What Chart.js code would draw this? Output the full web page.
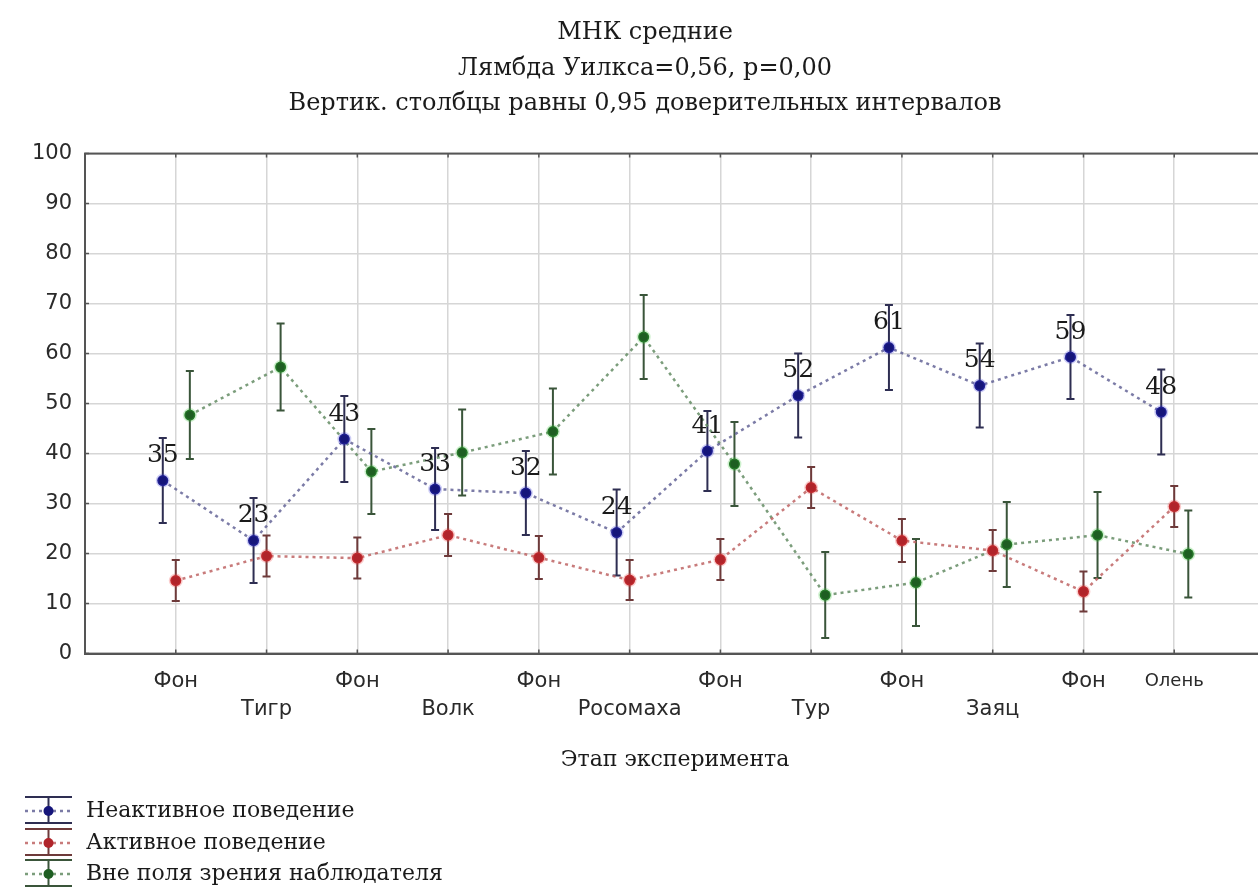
<!DOCTYPE html>
<html><head><meta charset="utf-8">
<script src="https://cdn.jsdelivr.net/npm/chart.js@4.4.0/dist/chart.umd.min.js"></script>
<style>
html,body{margin:0;padding:0;background:#fff;overflow:hidden;}
#wrap{width:1290px;height:895px;position:relative;}
</style></head><body>
<div id="wrap"><canvas id="c" width="1290" height="895"></canvas></div>
<script>
// ---- data ----
const categories = ['Фон','Тигр','Фон','Волк','Фон','Росомаха','Фон','Тур','Фон','Заяц','Фон','Олень'];
const seriesNames = ['Неактивное поведение','Активное поведение','Вне поля зрения наблюдателя'];
const inactiveMean = [34.6, 22.6, 42.9, 32.9, 32.1, 24.2, 40.5, 51.6, 61.2, 53.6, 59.3, 48.3];
const inactiveCI   = [8.5, 8.5, 8.6, 8.2, 8.4, 8.6, 8.0, 8.4, 8.5, 8.4, 8.4, 8.5];
const activeMean   = [14.6, 19.5, 19.1, 23.7, 19.2, 14.7, 18.8, 33.2, 22.6, 20.6, 12.4, 29.4];
const activeCI     = [4.1, 4.1, 4.1, 4.2, 4.3, 4.0, 4.1, 4.1, 4.3, 4.1, 4.0, 4.1];
const outsideMean  = [47.7, 57.3, 36.4, 40.2, 44.4, 63.3, 37.9, 11.7, 14.2, 21.8, 23.7, 19.9];
const outsideCI    = [8.8, 8.7, 8.5, 8.6, 8.6, 8.4, 8.4, 8.6, 8.7, 8.5, 8.6, 8.7];
const yTicks = [0,10,20,30,40,50,60,70,80,90,100];
const titleLines = ['МНК средние','Лямбда Уилкса=0,56, p=0,00','Вертик. столбцы равны 0,95 доверительных интервалов'];
const xAxisTitle = 'Этап эксперимента';

// ---- styles ----
const styles = [
  {offset:-0.143, line:'rgba(100,100,150,0.85)', point:'#15157a', halo:'rgba(60,60,220,0.25)', err:'#2e2e52'},
  {offset:0,      line:'rgba(190,100,100,0.85)', point:'#b0242a', halo:'rgba(240,60,60,0.25)', err:'#6e3a3a'},
  {offset:0.155,  line:'rgba(100,140,100,0.85)', point:'#1e5e22', halo:'rgba(60,200,60,0.25)', err:'#3a553a'}
];
const means = [inactiveMean, activeMean, outsideMean];
const cis = [inactiveCI, activeCI, outsideCI];

const datasets = seriesNames.map((name, s) => ({
  label: name,
  data: means[s].map((v, i) => ({x: i + styles[s].offset, y: v})),
  ci: cis[s],
  borderColor: styles[s].line,
  borderWidth: 2.5,
  borderDash: [3, 4],
  pointRadius: 5.5,
  pointHoverRadius: 5.5,
  pointBackgroundColor: styles[s].point,
  pointBorderColor: styles[s].halo,
  pointBorderWidth: 3,
  showLine: true,
  fill: false,
  errColor: styles[s].err,
  legendColor: styles[s].point
}));

const SERIF = 'DejaVu Serif';
const SANS = 'DejaVu Sans';

const extras = {
  id: 'extras',
  beforeDatasetsDraw(chart) {
    const {ctx, scales: {x, y}} = chart;
    chart.data.datasets.forEach(ds => {
      ctx.save();
      ctx.strokeStyle = ds.errColor;
      ctx.lineWidth = 2;
      ds.data.forEach((p, i) => {
        const px = x.getPixelForValue(p.x);
        const yl = y.getPixelForValue(p.y - ds.ci[i]);
        const yh = y.getPixelForValue(p.y + ds.ci[i]);
        ctx.beginPath();
        ctx.moveTo(px, yl); ctx.lineTo(px, yh);
        ctx.moveTo(px - 4, yl); ctx.lineTo(px + 4, yl);
        ctx.moveTo(px - 4, yh); ctx.lineTo(px + 4, yh);
        ctx.stroke();
      });
      ctx.restore();
    });
  },
  afterDatasetsDraw(chart) {
    const {ctx, scales: {x, y}} = chart;
    const ds = chart.data.datasets[0];
    ctx.save();
    ctx.font = '25px "' + SERIF + '"';
    ctx.fillStyle = '#1a1a1a';
    ctx.textAlign = 'center';
    ctx.textBaseline = 'middle';
    ds.data.forEach(p => {
      ctx.fillText(String(Math.round(p.y)), x.getPixelForValue(p.x), y.getPixelForValue(p.y) - 25);
    });
    ctx.restore();
  },
  afterDraw(chart) {
    const {ctx, chartArea: a, scales: {x, y}} = chart;
    ctx.save();
    // frame
    ctx.strokeStyle = '#555';
    ctx.lineWidth = 2;
    ctx.strokeRect(a.left, a.top, a.right - a.left, a.bottom - a.top);
    // small inward tick marks
    ctx.lineWidth = 1.5;
    ctx.beginPath();
    x.ticks.forEach(t => {
      const px = x.getPixelForValue(t.value);
      ctx.moveTo(px, a.top); ctx.lineTo(px, a.top + 4);
      ctx.moveTo(px, a.bottom); ctx.lineTo(px, a.bottom - 4);
    });
    y.ticks.forEach(t => {
      const py = y.getPixelForValue(t.value);
      ctx.moveTo(a.left, py); ctx.lineTo(a.left + 4, py);
    });
    ctx.stroke();
    // legend
    const rows = [811, 843, 874];
    chart.data.datasets.forEach((ds, i) => {
      const cy = rows[i];
      const x1 = 25, x2 = 72, cx = 48.5;
      ctx.strokeStyle = ds.errColor;
      ctx.lineWidth = 2;
      ctx.setLineDash([]);
      ctx.beginPath();
      ctx.moveTo(x1, cy - 14); ctx.lineTo(x2, cy - 14);
      ctx.moveTo(x1, cy + 12); ctx.lineTo(x2, cy + 12);
      ctx.moveTo(cx, cy - 14); ctx.lineTo(cx, cy + 12);
      ctx.stroke();
      ctx.strokeStyle = ds.borderColor;
      ctx.lineWidth = 2.5;
      ctx.setLineDash([3, 4]);
      ctx.beginPath();
      ctx.moveTo(x1, cy); ctx.lineTo(x2, cy);
      ctx.stroke();
      ctx.setLineDash([]);
      ctx.fillStyle = ds.legendColor;
      ctx.beginPath();
      ctx.arc(cx, cy, 5, 0, Math.PI * 2);
      ctx.fill();
      ctx.fillStyle = '#1a1a1a';
      ctx.font = '22px "' + SERIF + '"';
      ctx.textAlign = 'left';
      ctx.textBaseline = 'middle';
      ctx.fillText(ds.label, 86, cy);
    });
    ctx.restore();
  }
};

new Chart(document.getElementById('c'), {
  type: 'scatter',
  data: {datasets},
  options: {
    responsive: false,
    animation: false,
    devicePixelRatio: 1,
    layout: {padding: {left: 25, right: 25, top: 0, bottom: 122}},
    plugins: {
      legend: {display: false},
      tooltip: {enabled: false},
      title: {
        display: true,
        text: titleLines,
        color: '#1a1a1a',
        font: {family: SERIF, size: 24, weight: 'normal', lineHeight: 1.48},
        padding: {top: 15, bottom: 32}
      }
    },
    scales: {
      x: {
        type: 'linear',
        min: -1, max: 12,
        afterBuildTicks: s => { s.ticks = categories.map((_, i) => ({value: i})); },
        ticks: {
          autoSkip: false, maxRotation: 0, minRotation: 0,
          padding: 14,
          color: '#2a2a2a',
          font: c => ({family: SANS, size: (c.index === 11 ? 18 : 21), lineHeight: (c.index === 11 ? 1.556 : 1.333)}),
          callback: v => (v % 2 === 0 || v === 11) ? categories[v] : ['', categories[v]]
        },
        grid: {color: '#d6d6d6', lineWidth: 1.5, drawTicks: false},
        border: {display: true, color: '#555', width: 2},
        title: {display: true, text: xAxisTitle, color: '#1a1a1a',
          font: {family: SERIF, size: 22, lineHeight: 1.2}, padding: {top: 9, bottom: 0}}
      },
      y: {
        type: 'linear',
        min: 0, max: 100,
        afterBuildTicks: s => { s.ticks = yTicks.map(v => ({value: v})); },
        afterFit: s => { s.width = 60; },
        ticks: {padding: 13, color: '#2a2a2a', font: {family: SANS, size: 21}},
        grid: {color: '#d6d6d6', lineWidth: 1.5, drawTicks: false},
        border: {display: true, color: '#555', width: 2}
      }
    }
  },
  plugins: [extras]
});
</script>
</body></html>
